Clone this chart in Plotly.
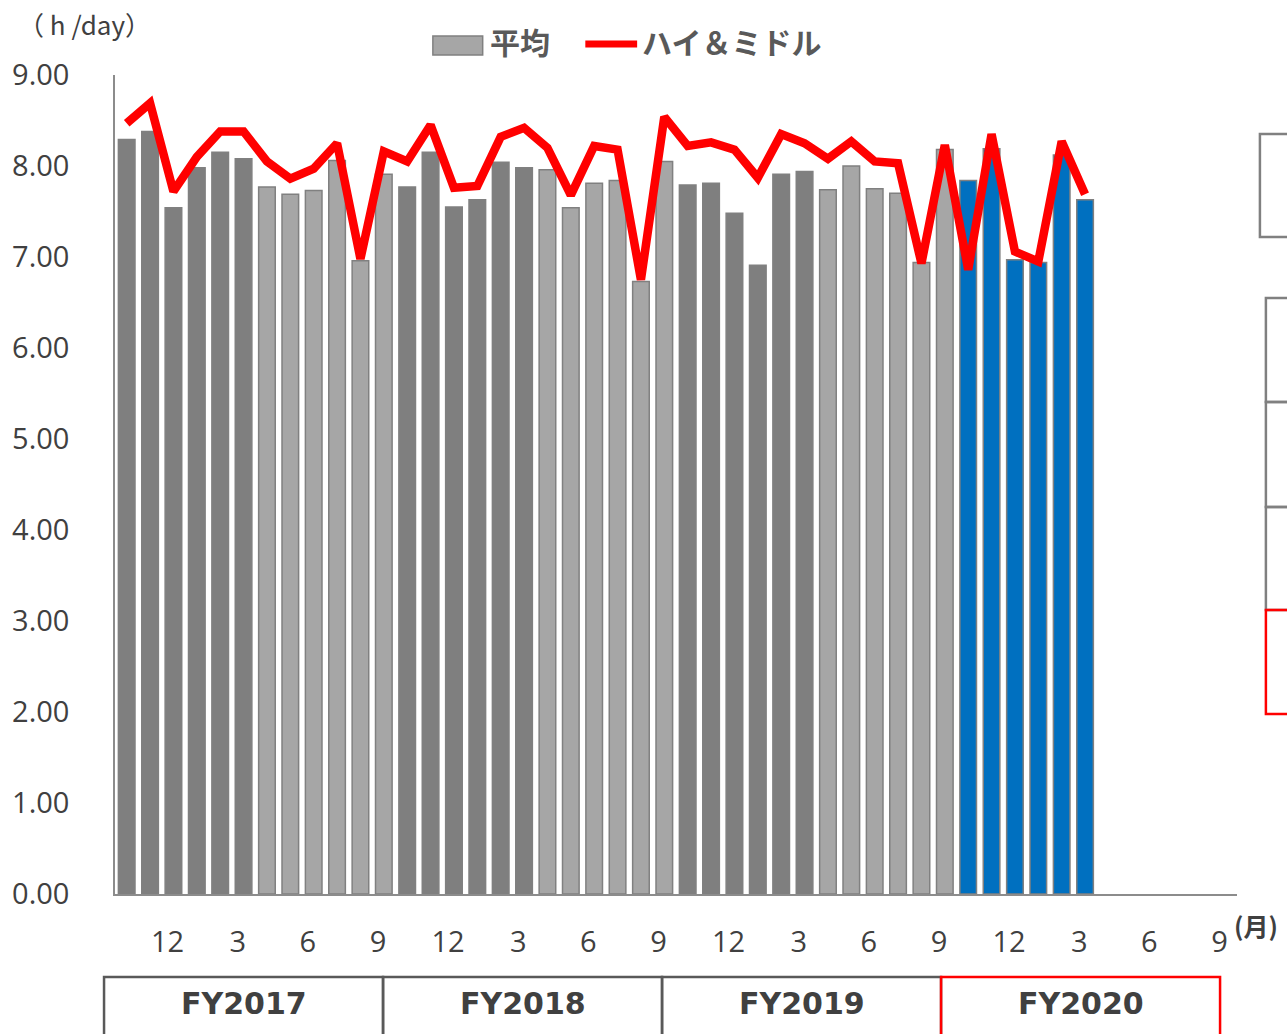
import plotly.graph_objects as go

# ---------------- data ----------------
months = [10, 11, 12, 1, 2, 3, 4, 5, 6, 7, 8, 9] * 4          # Oct 2017 .. Sep 2021 (48 slots)
fiscal_years = ["FY2017", "FY2018", "FY2019", "FY2020"]
avg = [8.29, 8.38, 7.54, 7.98, 8.15, 8.08, 7.77, 7.69, 7.73, 8.06, 6.96, 7.91,
       7.77, 8.15, 7.55, 7.63, 8.04, 7.98, 7.96, 7.54, 7.81, 7.84, 6.73, 8.05,
       7.79, 7.81, 7.48, 6.91, 7.91, 7.94, 7.74, 8.00, 7.75, 7.70, 6.94, 8.18,
       7.84, 8.19, 6.97, 6.94, 8.12, 7.63]
high_mid = [8.47, 8.69, 7.72, 8.10, 8.38, 8.38, 8.05, 7.86, 7.97, 8.25, 6.98, 8.16,
            8.05, 8.45, 7.76, 7.78, 8.32, 8.42, 8.20, 7.68, 8.22, 8.18, 6.75, 8.54,
            8.22, 8.26, 8.18, 7.87, 8.35, 8.25, 8.08, 8.27, 8.05, 8.03, 6.93, 8.23,
            6.86, 8.35, 7.06, 6.95, 8.27, 7.69]
tick_months = ["12", "3", "6", "9"]
y_ticks = [0, 1, 2, 3, 4, 5, 6, 7, 8, 9]

# ---------------- style ----------------
DARK = "#7F7F7F"
LIGHT = "#A6A6A6"
BLUE = "#0070C0"
TXT = "#404040"
W, H = 1287, 1034
L, R, T, B = 111, 1237, 75, 894   # plot area in pixels


def X(px):
    return (px - L) / (R - L)


def Y(py):
    return (B - py) / (B - T)


n = len(months)
xs = list(range(n))
bar_x = xs[:len(avg)]
colors = []
for i in bar_x:
    if i >= 36:
        colors.append(BLUE)
    elif months[i] in (10, 11, 12, 1, 2, 3):
        colors.append(DARK)
    else:
        colors.append(LIGHT)

tickvals = [i - 0.25 for i in xs if str(months[i]) in tick_months]
ticktext = [str(months[i]) for i in xs if str(months[i]) in tick_months]

fig = go.Figure()
fig.add_trace(go.Bar(x=bar_x, y=avg, name="平均",
                     marker=dict(color=colors, line=dict(color="#808080", width=1.5))))
fig.add_trace(go.Scatter(x=bar_x, y=high_mid, name="ハイ＆ミドル", mode="lines",
                         line=dict(color="#FF0000", width=8.5)))

shapes = []
annotations = []

# legend (drawn manually)
shapes.append(dict(type="rect", xref="paper", yref="paper", x0=X(430), x1=X(480), y0=Y(55), y1=Y(36),
                   fillcolor=LIGHT, line=dict(color="#808080", width=1.5)))
annotations.append(dict(xref="paper", yref="paper", x=X(485), y=Y(41), xanchor="left", yanchor="middle",
                        text="<b>平均</b>", showarrow=False,
                        font=dict(family="Noto Sans CJK JP", size=30, color="#595959")))
shapes.append(dict(type="line", xref="paper", yref="paper", x0=X(583), x1=X(635), y0=Y(44), y1=Y(44),
                   line=dict(color="#FF0000", width=7)))
annotations.append(dict(xref="paper", yref="paper", x=X(638), y=Y(41), xanchor="left", yanchor="middle",
                        text="<b>ハイ＆ミドル</b>", showarrow=False,
                        font=dict(family="Noto Sans CJK JP", size=30, color="#595959")))

# unit labels
annotations.append(dict(xref="paper", yref="paper", x=X(12), y=Y(23), xanchor="left", yanchor="middle",
                        text="（ h /day）", showarrow=False,
                        font=dict(family="Noto Sans CJK JP", size=26, color=TXT)))
annotations.append(dict(xref="paper", yref="paper", x=X(1232), y=Y(925), xanchor="left", yanchor="middle",
                        text="<b>(月)</b>", showarrow=False,
                        font=dict(family="Noto Sans CJK JP", size=25, color=TXT)))

# fiscal-year boxes
fy_edges = [100, 380, 660, 940, 1220]
for k, fy in enumerate(fiscal_years):
    x0, x1 = fy_edges[k], fy_edges[k + 1]
    if fy != "FY2020":
        shapes.append(dict(type="rect", xref="paper", yref="paper", x0=X(x0), x1=X(x1), y0=Y(1045), y1=Y(977),
                           line=dict(color="#595959", width=2.5)))
    annotations.append(dict(xref="paper", yref="paper", x=X((x0 + x1) / 2), y=Y(1003), xanchor="center",
                            yanchor="middle", text="<b>%s</b>" % fy, showarrow=False,
                            font=dict(family="DejaVu Sans", size=30, color=TXT)))
shapes.append(dict(type="rect", xref="paper", yref="paper", x0=X(940), x1=X(1220), y0=Y(1045), y1=Y(977),
                   line=dict(color="#FF0000", width=2.5)))

# partial boxes at the right edge
shapes.append(dict(type="rect", xref="paper", yref="paper", x0=X(1260), x1=X(1300), y0=Y(237), y1=Y(134),
                   line=dict(color="#808080", width=2.5)))
for (a, b) in [(298, 402), (402, 507), (507, 610)]:
    shapes.append(dict(type="rect", xref="paper", yref="paper", x0=X(1266), x1=X(1300), y0=Y(b), y1=Y(a),
                       line=dict(color="#808080", width=2.5)))
shapes.append(dict(type="rect", xref="paper", yref="paper", x0=X(1266), x1=X(1300), y0=Y(714), y1=Y(610),
                   line=dict(color="#FF0000", width=2.5)))

fig.update_layout(
    width=W, height=H,
    margin=dict(l=L, r=W - R, t=T, b=H - B, pad=0),
    paper_bgcolor="white", plot_bgcolor="white",
    showlegend=False,
    bargap=0.29,
    shapes=shapes,
    annotations=annotations,
    font=dict(family="Open Sans", color=TXT),
)
fig.update_xaxes(range=[-0.5, n - 0.5], tickvals=tickvals, ticktext=ticktext,
                 showgrid=False, zeroline=False, showline=True, linecolor="#8C8C8C", linewidth=1.5,
                 ticks="", tickfont=dict(family="Open Sans", size=29, color=TXT), ticklabelstandoff=21)
fig.update_yaxes(range=[0, 9], tickvals=y_ticks, tickformat=".2f",
                 showgrid=False, zeroline=False, showline=True, linecolor="#8C8C8C", linewidth=1.5,
                 ticks="", tickfont=dict(family="Open Sans", size=29, color=TXT), ticklabelstandoff=38)

fig.write_html("out.html", config={"displayModeBar": False},
               post_script="document.body.style.margin='0';document.body.style.overflow='hidden';")
